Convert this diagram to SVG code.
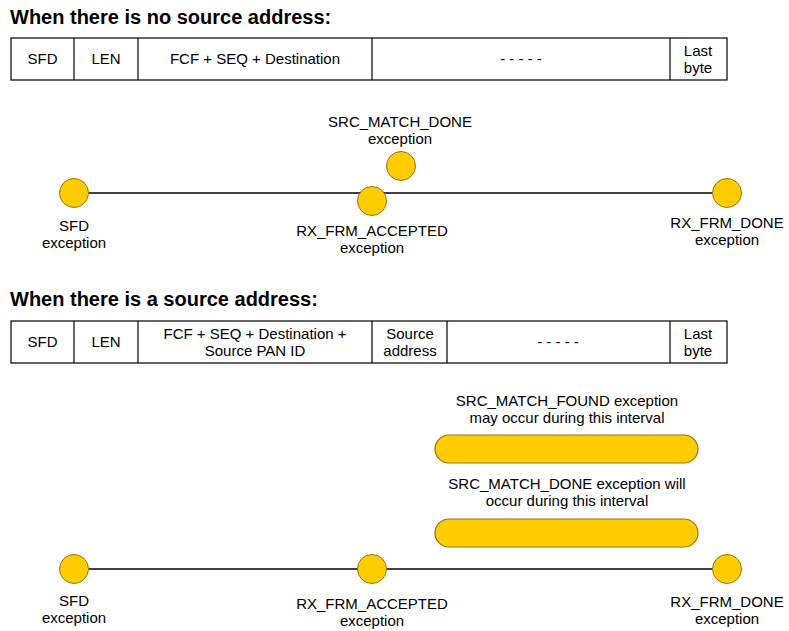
<svg xmlns="http://www.w3.org/2000/svg" width="789" height="631" viewBox="0 0 789 631">
<style>
.bg{fill:#ffffff}
.title{font-family:"Liberation Sans",Arial,sans-serif;font-weight:bold;font-size:20px;fill:#000}
.t{font-family:"Liberation Sans",Arial,sans-serif;font-size:15px;fill:#000;text-anchor:middle}
.cell{fill:#ffffff;stroke:#000;stroke-width:1.2}
.div{stroke:#000;stroke-width:1.2}
.ev{fill:#FFCC00;stroke:#9a7410;stroke-width:1}
.bar{fill:#FFCC00;stroke:#9a7410;stroke-width:1.2}
.tl{stroke:#000;stroke-width:1.3}
</style>
<rect class="bg" x="0" y="0" width="789" height="631"/>

<text class="title" x="10" y="24">When there is no source address:</text>
<g id="table1">
<rect class="cell" x="11" y="38" width="716" height="42"/>
<line class="div" x1="74" y1="38" x2="74" y2="80"/>
<line class="div" x1="138" y1="38" x2="138" y2="80"/>
<line class="div" x1="372" y1="38" x2="372" y2="80"/>
<line class="div" x1="670" y1="38" x2="670" y2="80"/>
<text class="t" x="42.5" y="64">SFD</text>
<text class="t" x="106" y="64">LEN</text>
<text class="t" x="255" y="64">FCF + SEQ + Destination</text>
<text class="t" x="521" y="64">- - - - -</text>
<text class="t" x="698" y="56">Last</text>
<text class="t" x="698" y="73">byte</text>
</g>

<g id="connectors">
<line class="tl" x1="74" y1="193" x2="727" y2="193"/>
<line class="tl" x1="74" y1="569" x2="727" y2="569"/>
</g>

<g id="t1-sfd">
<circle class="ev" cx="74" cy="193" r="14.5"/>
<text class="t" x="74" y="231">SFD</text>
<text class="t" x="74" y="248">exception</text>
</g>
<g id="t1-accepted">
<circle class="ev" cx="372" cy="201" r="14.5"/>
<text class="t" x="372" y="236">RX_FRM_ACCEPTED</text>
<text class="t" x="372" y="253">exception</text>
</g>
<g id="t1-matchdone">
<circle class="ev" cx="401" cy="166" r="14.5"/>
<text class="t" x="400" y="127">SRC_MATCH_DONE</text>
<text class="t" x="400" y="144">exception</text>
</g>
<g id="t1-done">
<circle class="ev" cx="727" cy="193" r="14.5"/>
<text class="t" x="727" y="228">RX_FRM_DONE</text>
<text class="t" x="727" y="245">exception</text>
</g>

<text class="title" x="10" y="306">When there is a source address:</text>
<g id="table2">
<rect class="cell" x="11" y="321" width="716" height="42"/>
<line class="div" x1="74" y1="321" x2="74" y2="363"/>
<line class="div" x1="138" y1="321" x2="138" y2="363"/>
<line class="div" x1="372" y1="321" x2="372" y2="363"/>
<line class="div" x1="447" y1="321" x2="447" y2="363"/>
<line class="div" x1="670" y1="321" x2="670" y2="363"/>
<text class="t" x="42.5" y="347">SFD</text>
<text class="t" x="106" y="347">LEN</text>
<text class="t" x="255" y="339">FCF + SEQ + Destination +</text>
<text class="t" x="255" y="356">Source PAN ID</text>
<text class="t" x="410" y="339">Source</text>
<text class="t" x="410" y="356">address</text>
<text class="t" x="558" y="347">- - - - -</text>
<text class="t" x="698" y="339">Last</text>
<text class="t" x="698" y="356">byte</text>
</g>

<g id="interval-found">
<text class="t" x="567" y="406">SRC_MATCH_FOUND exception</text>
<text class="t" x="567" y="423">may occur during this interval</text>
<rect class="bar" x="435" y="435" width="263" height="28" rx="14" ry="14"/>
</g>
<g id="interval-done">
<text class="t" x="567" y="489">SRC_MATCH_DONE exception will</text>
<text class="t" x="567" y="506">occur during this interval</text>
<rect class="bar" x="435" y="519" width="263" height="28" rx="14" ry="14"/>
</g>

<g id="t2-sfd">
<circle class="ev" cx="74" cy="569" r="14.5"/>
<text class="t" x="74" y="606">SFD</text>
<text class="t" x="74" y="623">exception</text>
</g>
<g id="t2-accepted">
<circle class="ev" cx="372" cy="569" r="14.5"/>
<text class="t" x="372" y="609">RX_FRM_ACCEPTED</text>
<text class="t" x="372" y="626">exception</text>
</g>
<g id="t2-done">
<circle class="ev" cx="727" cy="569" r="14.5"/>
<text class="t" x="727" y="607">RX_FRM_DONE</text>
<text class="t" x="727" y="624">exception</text>
</g>
</svg>
